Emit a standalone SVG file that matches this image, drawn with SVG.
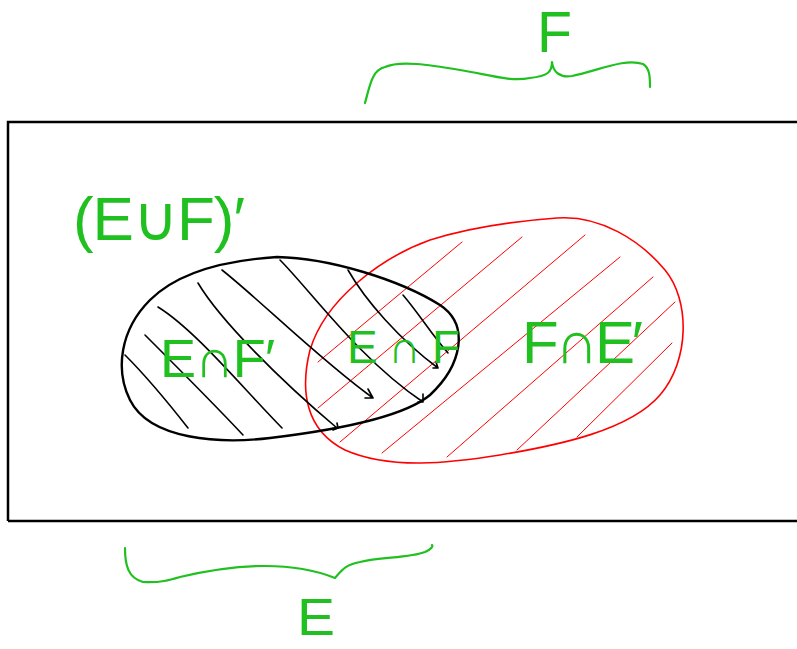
<svg xmlns="http://www.w3.org/2000/svg" width="797" height="649" viewBox="0 0 797 649">
<style>
.frame{fill:none;stroke:#000;stroke-width:2.5}
.eset{fill:none;stroke:#000;stroke-width:2.4;stroke-linejoin:round}
.fset{fill:none;stroke:#f00;stroke-width:1.6;stroke-linejoin:round}
.hb{fill:none;stroke:#000;stroke-width:1.6;stroke-linecap:round;stroke-linejoin:round}
.hr{fill:none;stroke:#f00;stroke-width:1;stroke-linecap:round}
.brace{fill:none;stroke:#1fc01f;stroke-width:2.2;stroke-linecap:round;stroke-linejoin:round}
.lbl{font-family:"Liberation Sans",Arial,sans-serif;fill:#1fc01f}
</style>
<rect width="797" height="649" fill="#fff"/>
<g id="universe">
<path class="frame" d="M 8 521 L 8 122 L 797 122 M 8 521 L 797 521"/>
<text class="lbl" x="73" y="240" font-size="62" textLength="172" lengthAdjust="spacing">(E∪F)′</text>
</g>
<g id="setF">
<path class="fset" d="M 557 218 C 600 215, 640 240, 665 270 C 690 300, 690 360, 660 395 C 630 430, 560 445, 500 455 C 450 463, 390 470, 345 450 C 305 430, 300 390, 310 350 C 325 300, 380 258, 430 240 C 480 224, 530 220, 557 218 Z"/>
<g id="hatchF">
<path class="hr" d="M 318 362 L 462 242"/>
<path class="hr" d="M 318 408 L 522 237"/>
<path class="hr" d="M 340 442 L 585 235"/>
<path class="hr" d="M 382 453 L 620 257"/>
<path class="hr" d="M 447 457 L 653 277"/>
<path class="hr" d="M 517 450 L 675 302"/>
<path class="hr" d="M 577 437 L 672 343"/>
</g>
</g>
<g id="setE">
<path class="eset" d="M 277 257 C 330 258, 400 280, 440 305 C 470 325, 462 365, 430 395 C 400 420, 320 432, 270 438 C 220 444, 150 440, 130 400 C 115 370, 120 330, 150 300 C 180 270, 230 260, 277 257 Z"/>
<g id="hatchE">
<path class="hb" d="M 125 355 C 145 375, 170 405, 188 428"/>
<path class="hb" d="M 145 335 C 175 365, 215 405, 243 435"/>
<path class="hb" d="M 158 307 C 195 330, 240 385, 282 428"/>
<path class="hb" d="M 198 283 C 220 320, 280 380, 337 428 M 333 430 L 338 428 L 337 423"/>
<path class="hb" d="M 222 270 C 260 300, 320 360, 373 398 M 368 389 L 373 398 L 365 398"/>
<path class="hb" d="M 280 260 C 310 290, 360 360, 423 402 M 423 394 L 423 402 L 418 402"/>
<path class="hb" d="M 348 270 C 365 300, 400 340, 438 368 M 436 362 L 438 368 L 433 368"/>
<path class="hb" d="M 403 295 C 420 315, 432 335, 448 353"/>
</g>
</g>
<g id="labels">
<text class="lbl" x="160" y="377" font-size="54" textLength="115" lengthAdjust="spacing">E∩F′</text>
<text class="lbl" x="347" y="363" font-size="46" textLength="113" lengthAdjust="spacing">E∩F</text>
<text class="lbl" x="522" y="363" font-size="60" textLength="121" lengthAdjust="spacing">F∩E′</text>
</g>
<g id="braceF">
<path class="brace" d="M 365 103 C 370 85, 372 70, 385 67 C 400 60, 430 65, 460 70 C 490 75, 510 82, 530 78 C 548 76, 552 72, 552 62 C 553 72, 560 78, 572 76 C 600 70, 625 58, 643 64 C 650 68, 650 78, 650 87"/>
<text class="lbl" x="537" y="52" font-size="58" textLength="35" lengthAdjust="spacingAndGlyphs">F</text>
</g>
<g id="braceE">
<path class="brace" d="M 125 548 C 125 565, 128 578, 143 582 C 160 583, 170 580, 180 577 C 210 570, 240 566, 265 566 C 290 566, 315 570, 335 578 C 342 570, 345 565, 360 562 C 380 557, 410 558, 425 552 C 432 549, 433 546, 432 545"/>
<text class="lbl" x="297" y="635" font-size="52" textLength="38" lengthAdjust="spacingAndGlyphs">E</text>
</g>
</svg>
